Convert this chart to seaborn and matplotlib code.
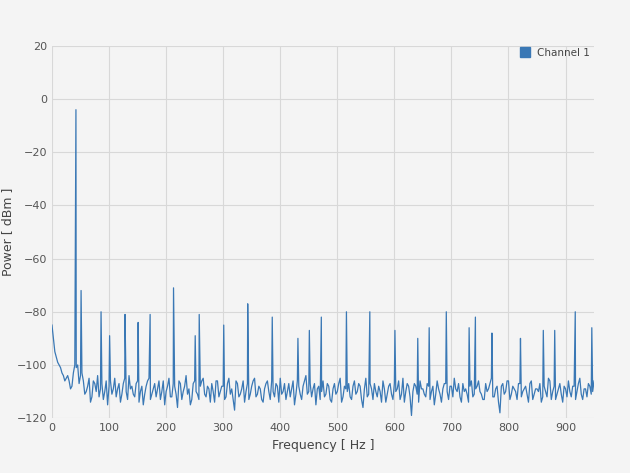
import matplotlib
matplotlib.use("Agg")
import matplotlib.pyplot as plt
import seaborn as sns
import pandas as pd

# noise floor sampled every 5 Hz (0..950)
floor_db = [-85,-95,-99,-101,-104,-105,-106,-108,-100,-100,-104,-106,-110,-105,-112,-107,-104,-109,-113,-106,
-108,-111,-105,-109,-114,-107,-110,-104,-108,-112,-106,-110,-115,-108,-105,-111,-107,-109,-113,-106,
-110,-105,-112,-108,-116,-107,-110,-104,-109,-113,-106,-111,-108,-105,-112,-109,-107,-114,-106,-110,
-108,-112,-105,-109,-117,-107,-111,-106,-110,-113,-108,-105,-111,-109,-114,-107,-110,-106,-112,-108,
-105,-110,-113,-107,-109,-115,-106,-111,-108,-104,-110,-112,-107,-109,-113,-106,-111,-108,-114,-107,
-110,-105,-112,-109,-107,-113,-106,-110,-108,-116,-105,-111,-109,-107,-112,-110,-106,-114,-108,-111,
-107,-109,-113,-105,-110,-108,-119,-107,-111,-106,-109,-112,-108,-110,-115,-106,-111,-109,-107,-113,
-108,-105,-110,-112,-107,-109,-114,-106,-111,-108,-110,-113,-107,-109,-105,-112,-108,-118,-107,-110,
-106,-111,-109,-113,-107,-110,-108,-114,-106,-111,-109,-107,-112,-110,-105,-113,-108,-111,-107,-114,
-109,-106,-112,-108,-110,-105,-113,-109,-107,-111,-106]
floor_hz = [5 * i for i in range(len(floor_db))]

# intermediate noise samples (2.5, 7.5, ... Hz)
mid_db = [-90,-97,-100,-103,-106,-104,-109,-103,-101,-107,-103,-111,-108,-114,-106,-110,-112,-107,-110,-115,
-106,-109,-112,-107,-111,-105,-113,-109,-111,-107,-114,-108,-111,-106,-113,-109,-112,-106,-110,-115,
-108,-112,-107,-111,-106,-113,-108,-111,-115,-107,-110,-113,-106,-111,-108,-114,-110,-106,-112,-108,
-113,-107,-111,-113,-106,-112,-109,-114,-107,-111,-106,-112,-108,-113,-109,-106,-113,-110,-107,-114,
-111,-107,-110,-112,-106,-111,-108,-113,-106,-111,-107,-109,-115,-108,-110,-112,-107,-113,-109,-111,
-107,-114,-108,-110,-112,-108,-111,-107,-113,-109,-112,-107,-113,-110,-108,-114,-109,-111,-107,-113,
-110,-106,-111,-114,-107,-112,-110,-108,-114,-109,-111,-107,-113,-108,-111,-109,-114,-107,-110,-108,
-112,-109,-107,-114,-110,-111,-108,-112,-109,-106,-111,-113,-110,-107,-112,-109,-114,-108,-111,-106,
-113,-108,-110,-107,-112,-109,-111,-107,-113,-109,-110,-114,-108,-112,-106,-110,-113,-109,-111,-108,
-112,-110,-108,-113,-107,-111,-109,-112,-108,-110]
mid_hz = [2.5 + 5 * i for i in range(len(mid_db))]

# spectral lines
peak_hz = [42, 51, 86, 101, 128, 151, 172, 213, 251, 258, 301, 343, 386, 431, 451, 472, 516, 557, 601,
           641, 661, 691, 731, 742, 771, 821, 861, 881, 917, 946]
peak_db = [-4, -72, -80, -89, -81, -84, -81, -71, -89, -81, -85, -77, -82, -90, -87, -82, -80, -80, -87,
           -90, -86, -80, -86, -82, -88, -90, -87, -87, -80, -86]

df = pd.DataFrame({"Frequency": floor_hz + mid_hz + peak_hz,
                   "Power": floor_db + mid_db + peak_db}).sort_values("Frequency")

bg = "#f4f4f4"
fig = plt.figure(figsize=(6.3, 4.73), dpi=100, facecolor=bg)
ax = fig.add_axes([0.0825, 0.116, 0.8605, 0.787], facecolor=bg)
sns.lineplot(data=df, x="Frequency", y="Power", color="#3a78b5", lw=0.9, ax=ax,
             estimator=None, errorbar=None, legend=False)
ax.set_xlim(0, 950)
ax.set_ylim(-120, 20)
ax.set_xticks(range(0, 951, 100))
ax.set_yticks(range(-120, 21, 20))
ax.grid(True, color="#d8d8d8", lw=0.8)
for s in ax.spines.values():
    s.set_visible(False)
ax.tick_params(length=0, labelsize=8, colors="#555555")
ax.set_xlabel("Frequency [ Hz ]", fontsize=9, color="#444444")
ax.set_ylabel("Power [ dBm ]", fontsize=9, color="#444444", labelpad=2)
ax.plot([], [], "s", color="#3a78b5", ms=7, label="Channel 1")
ax.legend(loc="upper right", frameon=False, fontsize=7.5, handletextpad=0.2,
          bbox_to_anchor=(1.01, 1.02), labelcolor="#444444")
fig.savefig("out.png", dpi=100, facecolor=bg)
